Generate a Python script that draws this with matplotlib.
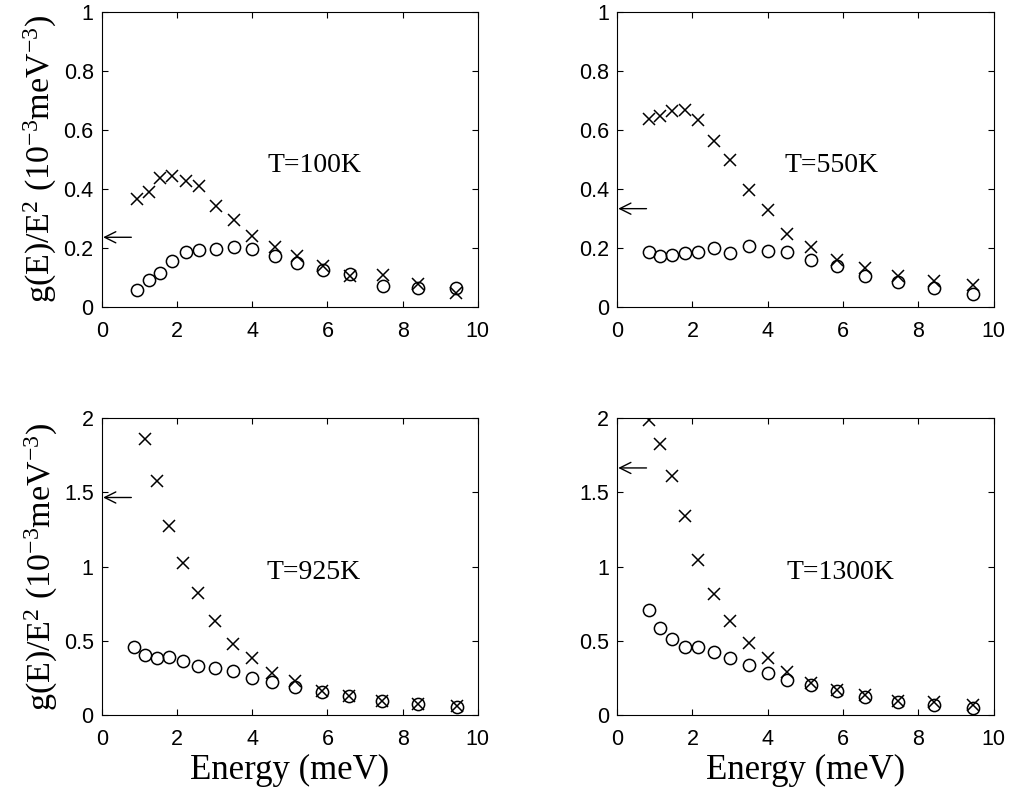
import numpy as np
import matplotlib.pyplot as plt

plt.rcParams['font.family'] = ['Liberation Sans', 'DejaVu Sans']
plt.rcParams['mathtext.fontset'] = 'custom'
plt.rcParams['mathtext.rm'] = 'Liberation Serif'
plt.rcParams['mathtext.it'] = 'Liberation Serif:italic'

# energies (meV)
energy_100 = [0.93, 1.24, 1.55, 1.86, 2.23, 2.59, 3.04, 3.51, 4.0, 4.6, 5.2, 5.88, 6.59, 7.47, 8.41, 9.43]
energy = [0.84, 1.15, 1.46, 1.79, 2.16, 2.56, 3.0, 3.49, 4.0, 4.52, 5.14, 5.85, 6.58, 7.46, 8.4, 9.45]

# crosses
cross_100 = [0.365, 0.388, 0.436, 0.442, 0.427, 0.41, 0.343, 0.295, 0.241, 0.203, 0.171, 0.138, 0.106, 0.109, 0.078, 0.047]
cross_550 = [0.636, 0.648, 0.664, 0.668, 0.632, 0.564, 0.498, 0.397, 0.329, 0.248, 0.203, 0.16, 0.132, 0.106, 0.089, 0.073]
cross_925 = [np.nan, 1.858, 1.573, 1.274, 1.022, 0.82, 0.634, 0.479, 0.382, 0.285, 0.231, 0.162, 0.128, 0.094, 0.072, 0.061]
cross_1300 = [1.99, 1.826, 1.608, 1.342, 1.042, 0.816, 0.636, 0.485, 0.383, 0.293, 0.219, 0.169, 0.135, 0.097, 0.09, 0.068]

# circles
circ_100 = [0.059, 0.09, 0.115, 0.154, 0.185, 0.194, 0.197, 0.202, 0.196, 0.174, 0.149, 0.124, 0.112, 0.072, 0.064, 0.064]
circ_550 = [0.186, 0.171, 0.177, 0.183, 0.186, 0.2, 0.183, 0.207, 0.188, 0.186, 0.16, 0.138, 0.106, 0.085, 0.064, 0.045]
circ_925 = [0.461, 0.404, 0.382, 0.389, 0.366, 0.333, 0.315, 0.297, 0.252, 0.22, 0.187, 0.157, 0.128, 0.097, 0.074, 0.056]
circ_1300 = [0.706, 0.586, 0.512, 0.458, 0.458, 0.428, 0.383, 0.338, 0.286, 0.237, 0.203, 0.165, 0.124, 0.09, 0.068, 0.045]

labels = ['T=100K', 'T=550K', 'T=925K', 'T=1300K']
label_x = [5.66, 5.7, 5.64, 5.92]
label_y = [0.48, 0.48, 0.963, 0.963]
arrow_y = [0.236, 0.333, 1.465, 1.664]
ymax = [1, 1, 2, 2]

fig = plt.figure(figsize=(10.1, 7.91), dpi=100)
rects = [
    [0.101, 0.612, 0.372, 0.373],
    [0.611, 0.612, 0.373, 0.373],
    [0.101, 0.096, 0.372, 0.3755],
    [0.611, 0.096, 0.373, 0.3755],
]
xs = [energy_100, energy, energy, energy]
crosses = [cross_100, cross_550, cross_925, cross_1300]
circles = [circ_100, circ_550, circ_925, circ_1300]

for i in range(4):
    ax = fig.add_axes(rects[i])
    ax.plot(xs[i], circles[i], 'o', mfc='none', mec='k', ms=8.8, mew=1.1)
    ax.plot(xs[i], crosses[i], 'x', color='k', ms=8.8, mew=1.1)
    ax.set_xlim(0, 10)
    ax.set_ylim(0, ymax[i])
    ax.set_xticks([0, 2, 4, 6, 8, 10])
    if ymax[i] == 1:
        ax.set_yticks([0, 0.2, 0.4, 0.6, 0.8, 1])
        ax.set_yticklabels(['0', '0.2', '0.4', '0.6', '0.8', '1'])
    else:
        ax.set_yticks([0, 0.5, 1, 1.5, 2])
        ax.set_yticklabels(['0', '0.5', '1', '1.5', '2'])
    ax.tick_params(direction='in', top=True, right=True, length=4, width=0.8,
                   labelsize=15.5)
    ax.tick_params(axis='x', pad=10)
    ax.tick_params(axis='y', pad=6)
    for s in ax.spines.values():
        s.set_linewidth(0.8)
    ax.text(label_x[i], label_y[i], labels[i], ha='center', va='center',
            fontsize=20, family='Liberation Serif')
    ax.annotate('', xy=(0.03, arrow_y[i]), xytext=(0.78, arrow_y[i]),
                arrowprops=dict(arrowstyle='->', lw=1.0, color='k',
                                mutation_scale=20, shrinkA=0, shrinkB=0))
    if i % 2 == 0:
        ax.set_ylabel(r'g(E)/E$^2$ (10$^{-3}$meV$^{-3}$)', fontsize=24.5,
                      family='Liberation Serif', labelpad=3)
    if i >= 2:
        ax.set_xlabel('Energy (meV)', fontsize=25, family='Liberation Serif', labelpad=3)

fig.savefig('out.png', dpi=100)
